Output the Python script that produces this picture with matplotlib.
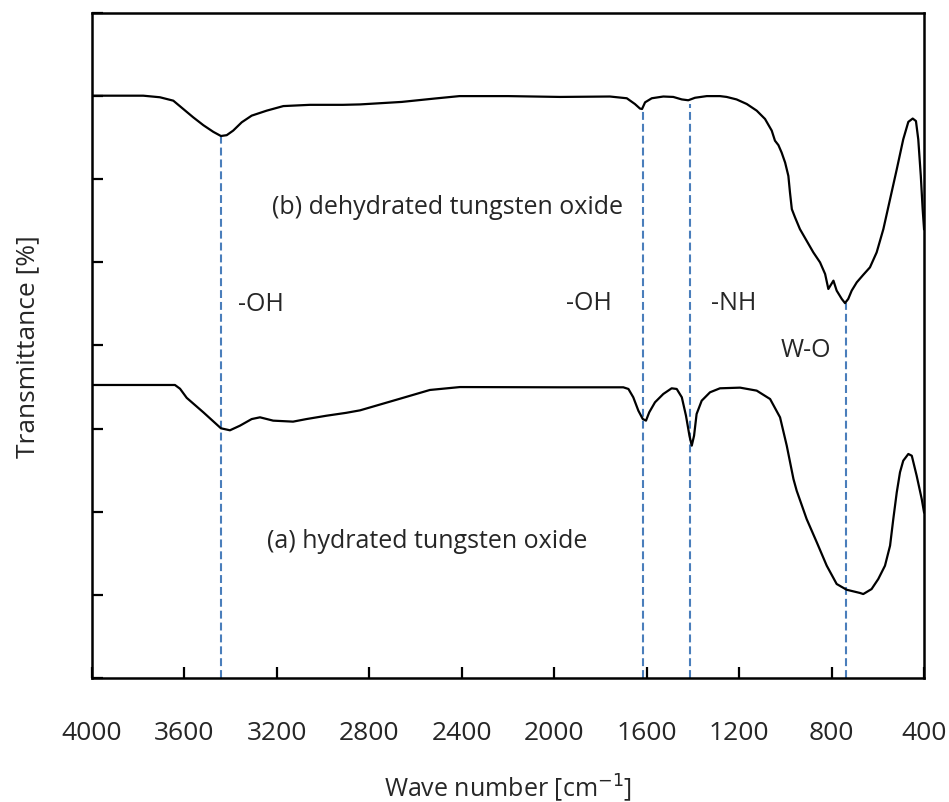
import numpy as np
import matplotlib
matplotlib.use("Agg")
import matplotlib.pyplot as plt

plt.rcParams['font.family'] = ['Open Sans', 'DejaVu Sans']

# FTIR spectrum (b) dehydrated tungsten oxide
wn_b = [4000, 3778, 3706, 3648, 3605, 3562, 3518, 3475, 3442, 3417, 3389,
        3352, 3309, 3244, 3172, 3057, 2914, 2840, 2660, 2520, 2410, 2200,
        1975, 1759, 1686, 1651, 1629, 1620, 1607, 1578, 1528, 1485, 1448,
        1420, 1391, 1340, 1283, 1254, 1211, 1167, 1124, 1088, 1059, 1045,
        1030, 1016, 1001, 987, 980, 972, 958, 937, 908, 879, 850, 828, 814,
        792, 778, 756, 742, 728, 713, 691, 663, 634, 605, 576, 547, 518, 490,
        468, 449, 435, 425, 414, 406, 400]
tr_b = [70.05, 70.05, 69.86, 69.45, 68.45, 67.45, 66.5, 65.7, 65.2, 65.3, 65.85,
        66.85, 67.65, 68.25, 68.8, 68.95, 68.95, 69.0, 69.3, 69.7, 70.0, 70.0,
        69.9, 69.95, 69.74, 69.05, 68.5, 68.45, 69.25, 69.74, 69.95, 69.9, 69.6,
        69.5, 69.8, 70.0, 70.0, 69.9, 69.6, 69.05, 68.25, 67.25, 65.85, 64.64,
        64.1, 63.2, 62.0, 60.4, 58.4, 56.4, 55.4, 54.0, 52.6, 51.2, 50.0, 48.6,
        46.8, 47.8, 46.6, 45.6, 45.1, 45.6, 46.6, 47.6, 48.5, 49.4, 51.2, 54.0,
        57.6, 61.2, 64.8, 66.9, 67.3, 67.0, 64.8, 60.4, 56.4, 54.0]

# FTIR spectrum (a) hydrated tungsten oxide
wn_a = [4000, 3641, 3619, 3590, 3518, 3442, 3403, 3360, 3309, 3273, 3216,
        3130, 3072, 2986, 2900, 2840, 2667, 2538, 2408, 1975, 1701, 1679,
        1658, 1636, 1617, 1603, 1589, 1564, 1528, 1492, 1470, 1448, 1430,
        1415, 1405, 1395, 1384, 1362, 1326, 1283, 1196, 1124, 1066, 1023, 994,
        965, 951, 908, 864, 821, 778, 735, 677, 663, 627, 598, 569, 547, 533,
        518, 504, 490, 468, 453, 432, 410, 400]
tr_a = [35.25, 35.25, 34.8, 33.7, 31.96, 30.04, 29.8, 30.35, 31.15, 31.36,
        30.96, 30.84, 31.15, 31.55, 31.9, 32.2, 33.6, 34.65, 35.0, 34.97, 34.97,
        34.77, 33.77, 32.16, 31.16, 30.96, 31.96, 33.17, 34.17, 34.85, 34.77,
        33.77, 31.56, 29.15, 27.95, 29.15, 31.76, 33.36, 34.37, 34.85, 34.93,
        34.57, 33.56, 31.36, 27.95, 23.94, 22.53, 19.13, 16.32, 13.51, 11.31,
        10.62, 10.23, 10.1, 10.7, 11.91, 13.51, 15.92, 19.13, 22.34, 24.75,
        26.14, 26.95, 26.74, 24.34, 21.53, 19.93]

# band positions and where each marker line stops
band_wn = [3442, 1617, 1411, 738]
band_top = [65.2, 68.45, 69.0, 45.1]

# band labels: text, wavenumber, transmittance
labels = ['-OH', '-OH', '-NH', 'W-O']
label_wn = [3269, 1849, 1222, 911]
label_tr = [44.3, 44.4, 44.4, 38.7]

fig = plt.figure(figsize=(9.49, 8.03), dpi=100)
ax = fig.add_axes([0.0969, 0.1544, 0.8768, 0.8282])

ax.vlines(band_wn, 0, band_top, colors='#4a7ebb', linewidth=1.5,
          linestyles=(0, (3.8, 1.9)))
ax.plot(wn_b, tr_b, color='black', linewidth=1.6)
ax.plot(wn_a, tr_a, color='black', linewidth=1.6)

ax.text(2460, 55.9, '(b) dehydrated tungsten oxide', fontsize=18,
        ha='center', va='baseline', color='#262626')
ax.text(2548, 15.8, '(a) hydrated tungsten oxide', fontsize=18,
        ha='center', va='baseline', color='#262626')
for t, x, y in zip(labels, label_wn, label_tr):
    ax.text(x, y, t, fontsize=18, ha='center', va='baseline', color='#262626')

ax.set_xlim(4000, 400)
ax.set_ylim(0, 80)
ax.set_xticks(np.arange(4000, 399, -400))
ax.set_yticks(np.arange(0, 81, 10))
ax.set_yticklabels([])
ax.tick_params(axis='both', direction='in', length=8, width=1.6)
ax.tick_params(axis='x', labelsize=19, pad=30, labelcolor='#262626')
for s in ax.spines.values():
    s.set_linewidth(1.8)

ax.set_xlabel('Wave number [cm$^{-1}$]', fontsize=18, color='#262626')
ax.xaxis.set_label_coords(0.5, -0.14)
ax.set_ylabel('Transmittance [%]', fontsize=19, color='#262626')
ax.yaxis.set_label_coords(-0.062, 0.5)

fig.savefig('out.png', dpi=100)
